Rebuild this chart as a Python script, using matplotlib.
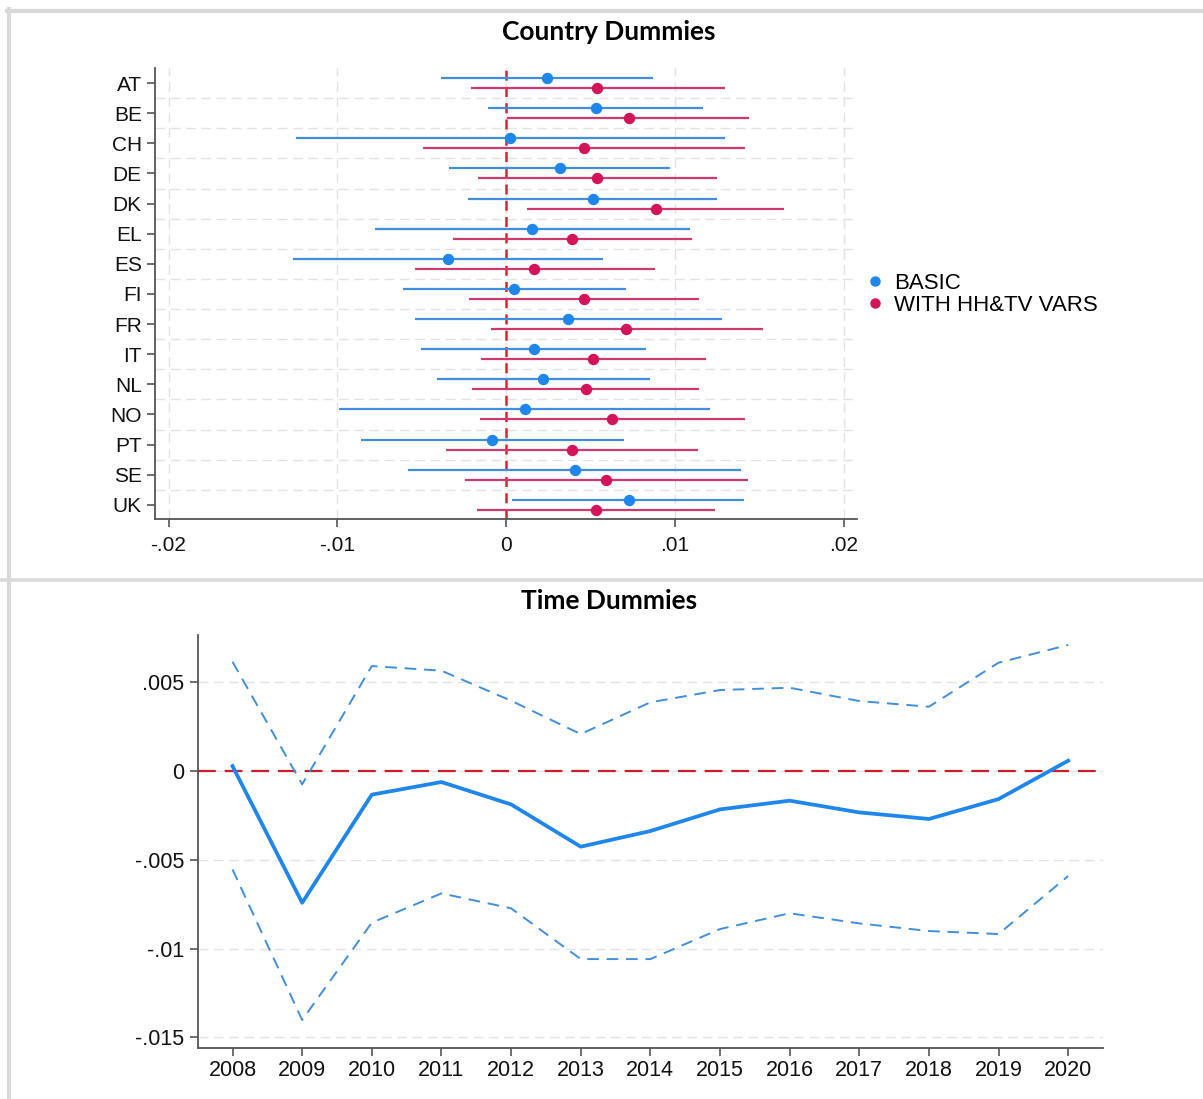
import matplotlib
matplotlib.use('Agg')
import matplotlib.pyplot as plt
from matplotlib.lines import Line2D
import numpy as np

plt.rcParams['font.family'] = ['Liberation Sans', 'DejaVu Sans']

# country dummies: point estimate and 95% CI, two specifications
countries = ['AT', 'BE', 'CH', 'DE', 'DK', 'EL', 'ES', 'FI', 'FR', 'IT', 'NL', 'NO', 'PT', 'SE', 'UK']
basic_coef = [0.00245, 0.00532, 0.00024, 0.00319, 0.00514, 0.00156, -0.00346, 0.00050,
              0.00368, 0.00166, 0.00219, 0.00111, -0.00081, 0.00409, 0.00726]
basic_lo = [-0.00387, -0.00107, -0.01246, -0.00338, -0.00223, -0.00777, -0.01261, -0.00611,
            -0.00542, -0.00502, -0.00411, -0.00988, -0.00862, -0.00579, 0.00038]
basic_hi = [0.00874, 0.01168, 0.01295, 0.00973, 0.01252, 0.01091, 0.00572, 0.00714,
            0.01279, 0.00830, 0.00852, 0.01208, 0.00700, 0.01394, 0.01412]
hh_coef = [0.00542, 0.00726, 0.00463, 0.00542, 0.00886, 0.00394, 0.00166, 0.00463,
           0.00714, 0.00518, 0.00474, 0.00631, 0.00394, 0.00593, 0.00532]
hh_lo = [-0.00205, 0.00008, -0.00494, -0.00164, 0.00123, -0.00314, -0.00542, -0.00219,
         -0.00091, -0.00148, -0.00199, -0.00156, -0.00354, -0.00241, -0.00174]
hh_hi = [0.01295, 0.01440, 0.01418, 0.01248, 0.01649, 0.01103, 0.00880, 0.01145,
         0.01521, 0.01184, 0.01145, 0.01418, 0.01139, 0.01432, 0.01236]
series_labels = ['BASIC', 'WITH HH&TV VARS']
country_xticks = [-0.02, -0.01, 0, 0.01, 0.02]
country_xlabels = ['-.02', '-.01', '0', '.01', '.02']

# time dummies
years = [2008, 2009, 2010, 2011, 2012, 2013, 2014, 2015, 2016, 2017, 2018, 2019, 2020]
time_coef = [0.00028, -0.00742, -0.00133, -0.00062, -0.00188, -0.00426, -0.00338,
             -0.00216, -0.00167, -0.00233, -0.00270, -0.00158, 0.00058]
time_hi = [0.00615, -0.00075, 0.00591, 0.00565, 0.00396, 0.00208, 0.00387,
           0.00456, 0.00469, 0.00394, 0.00362, 0.00610, 0.00710]
time_lo = [-0.00554, -0.01402, -0.00854, -0.00689, -0.00773, -0.01059, -0.01059,
           -0.00890, -0.00801, -0.00858, -0.00901, -0.00918, -0.00591]
time_yticks = [0.005, 0, -0.005, -0.01, -0.015]
time_ylabels = ['.005', '0', '-.005', '-.01', '-.015']

BLUE = '#1f86ec'
BLUE_CI = '#3f8fdc'
RED = '#d4145a'
RED_CI = '#cc3a6e'
ZERO = '#d8262e'
GRID = '#e3e3e3'
SPINE = '#555555'
W, H = 1203, 1099

fig = plt.figure(figsize=(W / 100, H / 100), dpi=100)


def style_axes(ax, size):
    for s in ['top', 'right']:
        ax.spines[s].set_visible(False)
    for s in ['left', 'bottom']:
        ax.spines[s].set_color(SPINE)
        ax.spines[s].set_linewidth(1.3)
    ax.tick_params(colors=SPINE, labelcolor='#111111', length=6, width=1.2, labelsize=size)


# ---- Country dummies ----
ax = fig.add_axes([155 / W, 1 - 519 / H, (857 - 155) / W, (519 - 68) / H])
style_axes(ax, 15)
pos = np.arange(len(countries))
off = 0.165
ax.hlines(pos - off, basic_lo, basic_hi, color=BLUE_CI, lw=1.6, zorder=3)
ax.plot(basic_coef, pos - off, 'o', color=BLUE, ms=7.2, zorder=4)
ax.hlines(pos + off, hh_lo, hh_hi, color=RED_CI, lw=1.6, zorder=3)
ax.plot(hh_coef, pos + off, 'o', color=RED, ms=7.2, zorder=4)
ax.axvline(0, color=ZERO, lw=1.8, ls=(0, (4, 2.5)), zorder=2)

ax.set_xlim(-0.0208, 0.0208)
ax.set_ylim(len(countries) - 0.53, -0.5)
ax.set_yticks(pos, countries)
ax.set_yticks(pos[:-1] + 0.5, minor=True)
ax.tick_params(axis='y', which='minor', length=0)
ax.set_xticks(country_xticks, country_xlabels)
ax.tick_params(axis='x', pad=6)
ax.grid(axis='y', which='minor', color=GRID, lw=1.0, ls=(0, (7, 4)))
ax.grid(axis='x', which='major', color=GRID, lw=1.0, ls=(0, (7, 4)))
ax.set_axisbelow(True)

handles = [Line2D([], [], ls='none', marker='o', color=BLUE, ms=6.5),
           Line2D([], [], ls='none', marker='o', color=RED, ms=6.5)]
fig.legend(handles, series_labels, loc='upper left', bbox_to_anchor=(866 / W, 1 - 273 / H),
           frameon=False, fontsize=16, handlelength=0.8, handletextpad=0.45,
           labelspacing=0.05, borderaxespad=0, borderpad=0)

fig.text(609 / W, 1 - 32 / H, 'Country Dummies', ha='center', va='center',
         fontsize=19, fontweight='bold', family=['Lato', 'DejaVu Sans'])

# ---- Time dummies ----
ax2 = fig.add_axes([197.7 / W, 1 - 1047.7 / H, (1103 - 197.7) / W, (1047.7 - 635) / H])
style_axes(ax2, 15.5)
ax2.plot(years, time_hi, color=BLUE_CI, lw=1.4, ls=(0, (6, 4)), zorder=3)
ax2.plot(years, time_lo, color=BLUE_CI, lw=1.4, ls=(0, (6, 4)), zorder=3)
ax2.plot(years, time_coef, color=BLUE, lw=2.7, zorder=4)
ax2.axhline(0, color='#c81e2a', lw=1.6, ls=(0, (8, 4)), zorder=2)
ax2.set_xlim(2007.5, 2020.5)
ax2.set_ylim(-0.01558, 0.00766)
ax2.set_xticks(years, [str(y) for y in years])
ax2.set_yticks(time_yticks, time_ylabels)
ax2.tick_params(axis='x', pad=3)
ax2.grid(axis='y', color=GRID, lw=1.0, ls=(0, (7, 4)))
ax2.set_axisbelow(True)

fig.text(609 / W, 1 - 601 / H, 'Time Dummies', ha='center', va='center',
         fontsize=19, fontweight='bold', family=['Lato', 'DejaVu Sans'])

# panel borders
border = '#d9d9d9'
fig.add_artist(Line2D([7 / W, 1], [1 - 11 / H, 1 - 11 / H], transform=fig.transFigure, color=border, lw=3))
fig.add_artist(Line2D([9 / W, 9 / W], [0, 1 - 9 / H], transform=fig.transFigure, color=border, lw=3))
fig.add_artist(Line2D([0, 1], [1 - 580 / H, 1 - 580 / H], transform=fig.transFigure, color=border, lw=2.6))

fig.savefig('out.png', dpi=100)
plt.close(fig)
